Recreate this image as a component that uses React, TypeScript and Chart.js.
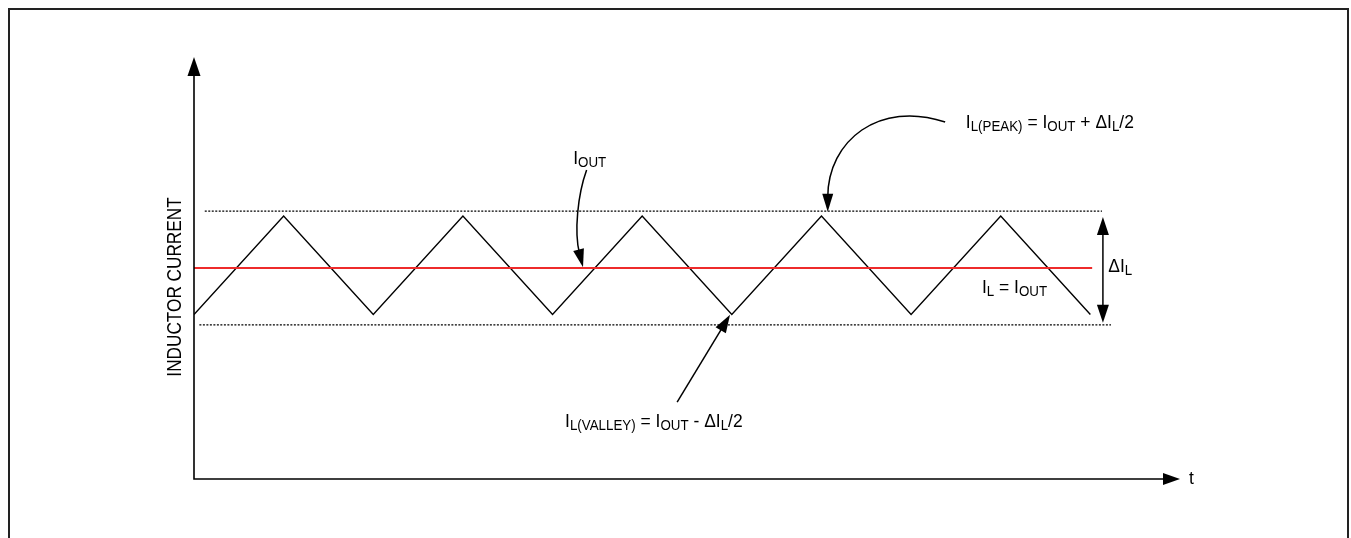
import React, { useEffect, useRef } from "react";
import { Chart, registerables } from "chart.js";

Chart.register(...registerables);

// ---- data (time in half-periods, current in arbitrary units 0..100) ----
const TRI_X = [0, 1, 2, 3, 4, 5, 6, 7, 8, 9, 10];
const TRI_Y = [39, 62.3, 39, 62.3, 39, 62.3, 39, 62.3, 39, 62.3, 39];
const IOUT_X = [0, 10.02];
const IOUT_Y = [50, 50];
const PEAK_X = [0.12, 10.13];
const PEAK_Y = [63.5, 63.5];
const VALLEY_X = [0.06, 10.23];
const VALLEY_Y = [36.5, 36.5];
const X_RANGE = [0, 11];
const Y_RANGE = [0, 100];

const Y_TITLE = "INDUCTOR CURRENT";
const X_TITLE = "t";

// rich labels: [text, "m" main | "s" subscript]
type Seg = [string, "m" | "s"];
const LABEL_IOUT: Seg[] = [["I", "m"], ["OUT", "s"]];
const LABEL_PEAK: Seg[] = [["I", "m"], ["L(PEAK)", "s"], [" = I", "m"], ["OUT", "s"], [" + ΔI", "m"], ["L", "s"], ["/2", "m"]];
const LABEL_VALLEY: Seg[] = [["I", "m"], ["L(VALLEY)", "s"], [" = I", "m"], ["OUT", "s"], [" - ΔI", "m"], ["L", "s"], ["/2", "m"]];
const LABEL_IL: Seg[] = [["I", "m"], ["L", "s"], [" = I", "m"], ["OUT", "s"]];
const LABEL_DIL: Seg[] = [["ΔI", "m"], ["L", "s"]];

// label anchors (data units: x, baseline y)
const LABELS: { segs: Seg[]; x: number; y: number }[] = [
  { segs: LABEL_IOUT, x: 4.23, y: 74.7 },
  { segs: LABEL_PEAK, x: 8.61, y: 83.2 },
  { segs: LABEL_VALLEY, x: 4.14, y: 12.4 },
  { segs: LABEL_IL, x: 8.79, y: 44.1 },
  { segs: LABEL_DIL, x: 10.2, y: 49.1 },
];

// curved arrows: start, cp1, cp2, end (data units)
const CURVES: number[][] = [
  [4.38, 73.2, 4.28, 67.3, 4.24, 58.5, 4.34, 50.2],
  [8.38, 84.6, 7.65, 89.8, 7.07, 80.3, 7.07, 63.3],
];
// straight arrow (valley)
const STRAIGHT: number[][] = [[5.39, 18.2, 5.98, 38.9]];
// double arrow ΔIL
const DOUBLE: number[][] = [[10.14, 62.1, 37.0]];

const FONT = '"Liberation Sans", Arial, Helvetica, sans-serif';
const MAIN = 19;
const SUB = 14.5;
const SUB_DY = 3;
const SX = 0.92;

function drawRich(ctx: CanvasRenderingContext2D, x: number, y: number, segs: Seg[]) {
  ctx.save();
  ctx.translate(x, y);
  ctx.scale(SX, 1);
  ctx.textAlign = "left";
  ctx.textBaseline = "alphabetic";
  let cx = 0;
  for (const [t, k] of segs) {
    const size = k === "s" ? SUB : MAIN;
    ctx.font = `${size}px ${FONT}`;
    ctx.fillText(t, cx, k === "s" ? SUB_DY : 0);
    cx += ctx.measureText(t).width;
  }
  ctx.restore();
}

function head(ctx: CanvasRenderingContext2D, tx: number, ty: number, ang: number, len: number, w: number) {
  ctx.save();
  ctx.translate(tx, ty);
  ctx.rotate(ang);
  ctx.beginPath();
  ctx.moveTo(0, 0);
  ctx.lineTo(-len, -w / 2);
  ctx.lineTo(-len, w / 2);
  ctx.closePath();
  ctx.fill();
  ctx.restore();
}

const diagramPlugin = {
  id: "diagram",
  afterDatasetsDraw(chart: any) {
    const { ctx, chartArea } = chart;
    const xs = chart.scales.x;
    const ys = chart.scales.y;
    const px = (v: number) => xs.getPixelForValue(v);
    const py = (v: number) => ys.getPixelForValue(v);
    ctx.save();
    ctx.strokeStyle = "#000";
    ctx.fillStyle = "#000";
    ctx.lineWidth = 1.6;

    // axes
    const L = chartArea.left, B = chartArea.bottom, T = chartArea.top, R = chartArea.right;
    ctx.beginPath();
    ctx.moveTo(L, T + 15);
    ctx.lineTo(L, B);
    ctx.lineTo(R - 12, B);
    ctx.stroke();
    head(ctx, L, T, -Math.PI / 2, 19, 13);
    head(ctx, R, B, 0, 17, 12);

    // axis titles
    ctx.save();
    ctx.translate(px(-0.21), py(45.5));
    ctx.rotate(-Math.PI / 2);
    ctx.scale(0.86, 1);
    ctx.font = `20px ${FONT}`;
    ctx.textAlign = "center";
    ctx.textBaseline = "middle";
    ctx.fillText(Y_TITLE, 0, 0);
    ctx.restore();

    drawRich(ctx, px(11.1), py(-1.2), [[X_TITLE, "m"]]);

    // labels
    for (const l of LABELS) drawRich(ctx, px(l.x), py(l.y), l.segs);

    // curved arrows
    ctx.lineWidth = 1.5;
    for (const c of CURVES) {
      const p = [px(c[0]), py(c[1]), px(c[2]), py(c[3]), px(c[4]), py(c[5]), px(c[6]), py(c[7])];
      const ang = Math.atan2(p[7] - p[5], p[6] - p[4]);
      const hl = 18;
      ctx.beginPath();
      ctx.moveTo(p[0], p[1]);
      ctx.bezierCurveTo(p[2], p[3], p[4], p[5], p[6] - Math.cos(ang) * hl * 0.8, p[7] - Math.sin(ang) * hl * 0.8);
      ctx.stroke();
      head(ctx, p[6], p[7], ang, hl, 11);
    }
    for (const s of STRAIGHT) {
      const x0 = px(s[0]), y0 = py(s[1]), x1 = px(s[2]), y1 = py(s[3]);
      const ang = Math.atan2(y1 - y0, x1 - x0);
      ctx.beginPath();
      ctx.moveTo(x0, y0);
      ctx.lineTo(x1 - Math.cos(ang) * 14, y1 - Math.sin(ang) * 14);
      ctx.stroke();
      head(ctx, x1, y1, ang, 18, 12);
    }
    for (const d of DOUBLE) {
      const x0 = px(d[0]), yt = py(d[1]), yb = py(d[2]);
      ctx.beginPath();
      ctx.moveTo(x0, yt + 14);
      ctx.lineTo(x0, yb - 14);
      ctx.stroke();
      head(ctx, x0, yt, -Math.PI / 2, 18, 12);
      head(ctx, x0, yb, Math.PI / 2, 18, 12);
    }
    ctx.restore();
  },
};

const pts = (xa: number[], ya: number[]) => xa.map((v, i) => ({ x: v, y: ya[i] }));

export default function App() {
  const ref = useRef<HTMLCanvasElement | null>(null);
  useEffect(() => {
    if (!ref.current) return;
    const chart = new Chart(ref.current, {
      type: "line",
      data: {
        datasets: [
          { data: pts(PEAK_X, PEAK_Y), borderColor: "#000", borderWidth: 1.3, borderDash: [2, 1.5], pointRadius: 0 },
          { data: pts(VALLEY_X, VALLEY_Y), borderColor: "#000", borderWidth: 1.3, borderDash: [2, 1.5], pointRadius: 0 },
          { data: pts(IOUT_X, IOUT_Y), borderColor: "#ee2b2b", borderWidth: 2, pointRadius: 0 },
          { data: pts(TRI_X, TRI_Y), borderColor: "#000", borderWidth: 1.4, pointRadius: 0, tension: 0 },
        ],
      },
      options: {
        animation: false,
        responsive: false,
        maintainAspectRatio: false,
        layout: { padding: { left: 194, right: 171, top: 57, bottom: 59 } },
        plugins: { legend: { display: false }, tooltip: { enabled: false }, title: { display: false } },
        scales: {
          x: { type: "linear", min: X_RANGE[0], max: X_RANGE[1], display: false },
          y: { type: "linear", min: Y_RANGE[0], max: Y_RANGE[1], display: false },
        },
      },
      plugins: [diagramPlugin],
    } as any);
    return () => chart.destroy();
  }, []);
  return (
    <div>
      <div
        style={{
          position: "absolute",
          left: 8,
          top: 8,
          width: 1341,
          height: 530,
          boxSizing: "border-box",
          borderTop: "2px solid #222",
          borderLeft: "2px solid #222",
          borderRight: "2px solid #222",
        }}
      />
      <canvas
        ref={ref}
        width={1351}
        height={538}
        style={{ position: "absolute", left: 0, top: 0, width: 1351, height: 538 }}
      />
    </div>
  );
}
